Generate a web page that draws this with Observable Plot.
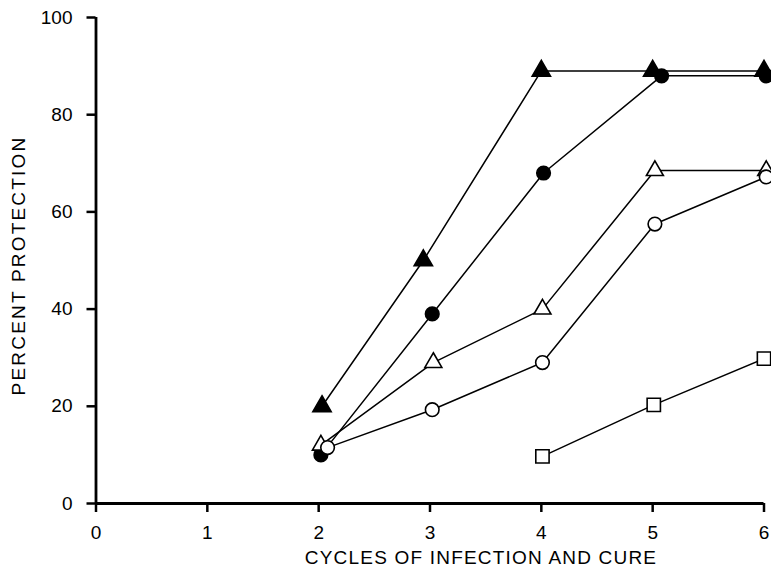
<!DOCTYPE html>
<html>
<head>
<meta charset="utf-8">
<script src="https://cdn.jsdelivr.net/npm/d3@7"></script>
<script src="https://cdn.jsdelivr.net/npm/@observablehq/plot@0.6"></script>
<style>
  html, body { margin: 0; padding: 0; background: #fff; }
  svg { display: block; }
</style>
</head>
<body>
<div id="chart"></div>
<script>
// Data
const xTicks = [0, 1, 2, 3, 4, 5, 6];
const yTicks = [0, 20, 40, 60, 80, 100];
const xTitle = "CYCLES OF INFECTION AND CURE";
const yTitle = "PERCENT PROTECTION";

const filledTriangle = [
  {x: 2.03, y: 20}, {x: 2.94, y: 50}, {x: 4, y: 89}, {x: 5, y: 89}, {x: 6, y: 89}
];
const filledCircle = [
  {x: 2.02, y: 10}, {x: 3.02, y: 39}, {x: 4.02, y: 68}, {x: 5.08, y: 88}, {x: 6.02, y: 88}
];
const openTriangle = [
  {x: 2.02, y: 12}, {x: 3.03, y: 29}, {x: 4.01, y: 40}, {x: 5.02, y: 68.5}, {x: 6.02, y: 68.5}
];
const openCircle = [
  {x: 2.08, y: 11.5}, {x: 3.02, y: 19.3}, {x: 4.01, y: 29}, {x: 5.02, y: 57.5}, {x: 6.02, y: 67.2}
];
const openSquare = [
  {x: 4.01, y: 9.7}, {x: 5.01, y: 20.3}, {x: 6.0, y: 29.8}
];

const series = [
  {data: filledTriangle, symbol: "triangle", fill: "black", r: 6.8},
  {data: filledCircle, symbol: "circle", fill: "black", r: 6.8},
  {data: openTriangle, symbol: "triangle", fill: "white", r: 6.3},
  {data: openCircle, symbol: "circle", fill: "white", r: 6.8},
  {data: openSquare, symbol: "square", fill: "white", r: 7.5}
];

const font = "'Liberation Sans', Arial, sans-serif";

const marks = [
  Plot.axisY({ticks: yTicks, tickFormat: d3.format("d"), tickSize: 9, tickPadding: 14.5,
    strokeWidth: 2.5, fontSize: 19, label: null}),
  Plot.axisX({ticks: xTicks, tickFormat: d3.format("d"), tickSize: 9, tickPadding: 13,
    strokeWidth: 2.5, fontSize: 19, label: null}),
  Plot.ruleX([0], {y1: 0, y2: 100, strokeWidth: 2.8}),
  Plot.ruleY([0], {x1: 0, x2: 6, strokeWidth: 2.8}),
  Plot.text([xTitle], {text: d => d, frameAnchor: "bottom", dx: 51, dy: 54, lineAnchor: "middle",
    textAnchor: "middle", fontSize: 19, fill: "black"}),
  Plot.text([yTitle], {text: d => d, frameAnchor: "left", dx: -77, dy: 5, rotate: -90,
    lineAnchor: "middle", textAnchor: "middle", fontSize: 19, fill: "black"})
];
for (const s of series) {
  marks.push(Plot.line(s.data, {x: "x", y: "y", stroke: "black", strokeWidth: 1.5}));
}
for (const s of series) {
  marks.push(Plot.dot(s.data, {x: "x", y: "y", symbol: () => s.symbol, r: s.r,
    fill: s.fill, stroke: "black", strokeWidth: 1.6}));
}

const chart = Plot.plot({
  width: 771,
  height: 571,
  marginLeft: 95.5,
  marginRight: 7.5,
  marginTop: 17,
  marginBottom: 68,
  style: {fontFamily: font, fontSize: "19px", color: "black", background: "white", overflow: "visible"},
  x: {domain: [0, 6]},
  y: {domain: [0, 100]},
  symbol: {type: "identity"},
  marks
});
document.getElementById("chart").appendChild(chart);
d3.select(chart).selectAll("text").each(function() {
  const t = this.textContent;
  if (t === xTitle) d3.select(this).style("letter-spacing", "1.2px");
  if (t === yTitle) d3.select(this).style("letter-spacing", "2.2px");
});
</script>
</body>
</html>
